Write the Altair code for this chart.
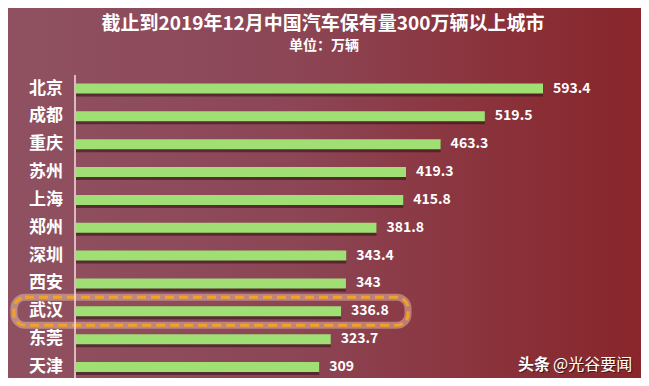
import altair as alt
import pandas as pd

cities = ["北京", "成都", "重庆", "苏州", "上海", "郑州", "深圳", "西安", "武汉", "东莞", "天津"]
values = [593.4, 519.5, 463.3, 419.3, 415.8, 381.8, 343.4, 343, 336.8, 323.7, 309]
labels = ["593.4", "519.5", "463.3", "419.3", "415.8", "381.8", "343.4", "343", "336.8", "323.7", "309"]
highlight_city = "武汉"

title_text = "截止到2019年12月中国汽车保有量300万辆以上城市"
subtitle_text = "单位：万辆"
wm_bold = "头条"
wm_rest = "@光谷要闻"

W, H = 633, 370
FONT = "Noto Sans CJK SC"

df = pd.DataFrame({"city": cities, "value": values, "label": labels})

xs = alt.Scale(domain=[0, 600], range=[68, 540.2])
ys = alt.Scale(domain=cities, range=[66.6, 372.9], paddingInner=0, paddingOuter=0)

X = alt.X("value:Q", scale=xs, axis=None)
Y = alt.Y("city:N", scale=ys, axis=None, sort=cities)

one = alt.Data(values=[{}])

bg = alt.Chart(one).mark_rect(
    fill=alt.LinearGradient(
        gradient="linear",
        x1=0, x2=1, y1=0, y2=0,
        stops=[
            alt.GradientStop(color="#8f5161", offset=0),
            alt.GradientStop(color="#8c4656", offset=0.45),
            alt.GradientStop(color="#8a3038", offset=0.8),
            alt.GradientStop(color="#88262b", offset=1),
        ],
    )
).encode(x=alt.value(0), x2=alt.value(W), y=alt.value(0), y2=alt.value(H))

hl_data = df[df.city == highlight_city]
glow = alt.Chart(hl_data).mark_rect(
    fill="transparent", stroke="#f6d0b0", strokeWidth=7, strokeOpacity=0.45, cornerRadius=11
).encode(y=Y, x=alt.value(6), x2=alt.value(400))
dash = alt.Chart(hl_data).mark_rect(
    fill="transparent", stroke="#f2a225", strokeWidth=3, strokeDash=[9, 5], cornerRadius=11
).encode(y=Y, x=alt.value(6), x2=alt.value(400))

shadow = alt.Chart(df).mark_bar(
    size=10, color="#2e1012", opacity=0.55, x2Offset=3, yOffset=3, y2Offset=3
).encode(x=X, y=Y)

bars = alt.Chart(df).mark_bar(size=10, color="#a0df74").encode(x=X, y=Y)

axis_line = alt.Chart(one).mark_rule(color="#f3dfe2", strokeWidth=1.5).encode(
    x=alt.value(67), y=alt.value(67), y2=alt.value(H)
)

city_txt = alt.Chart(df).mark_text(
    align="right", baseline="middle", font=FONT, fontSize=17, fontWeight="bold", color="white"
).encode(y=Y, x=alt.value(55), text="city:N")

val_txt = alt.Chart(df).mark_text(
    align="left", baseline="middle", dx=10, font=FONT, fontSize=14, fontWeight="bold", color="white"
).encode(y=Y, x=X, text="label:N")

title = alt.Chart(alt.Data(values=[{"t": title_text}])).mark_text(
    align="center", baseline="middle", font=FONT, fontSize=19, fontWeight="bold", color="white"
).encode(x=alt.value(315), y=alt.value(16), text="t:N")

subtitle = alt.Chart(alt.Data(values=[{"t": subtitle_text}])).mark_text(
    align="center", baseline="middle", font=FONT, fontSize=14, fontWeight="bold", color="white"
).encode(x=alt.value(316), y=alt.value(38), text="t:N")

wm1s = alt.Chart(alt.Data(values=[{"t": wm_bold}])).mark_text(
    align="left", baseline="middle", font=FONT, fontSize=16, fontWeight="bold", color="#2a1010", opacity=0.7
).encode(x=alt.value(511), y=alt.value(358), text="t:N")
wm1 = alt.Chart(alt.Data(values=[{"t": wm_bold}])).mark_text(
    align="left", baseline="middle", font=FONT, fontSize=16, fontWeight="bold", color="white"
).encode(x=alt.value(510), y=alt.value(357), text="t:N")
wm2s = alt.Chart(alt.Data(values=[{"t": wm_rest}])).mark_text(
    align="left", baseline="middle", font=FONT, fontSize=16, color="#2a1010", opacity=0.7
).encode(x=alt.value(546), y=alt.value(358), text="t:N")
wm2 = alt.Chart(alt.Data(values=[{"t": wm_rest}])).mark_text(
    align="left", baseline="middle", font=FONT, fontSize=16, color="white"
).encode(x=alt.value(545), y=alt.value(357), text="t:N")

chart = alt.layer(
    bg, glow, dash, shadow, bars, axis_line, city_txt, val_txt, title, subtitle, wm1s, wm1, wm2s, wm2
).properties(
    width=W, height=H, padding=0, autosize="none"
).configure_view(stroke=None).configure(background="#8c4050")

chart.save("out.html", embed_options={"renderer": "svg", "actions": False})
